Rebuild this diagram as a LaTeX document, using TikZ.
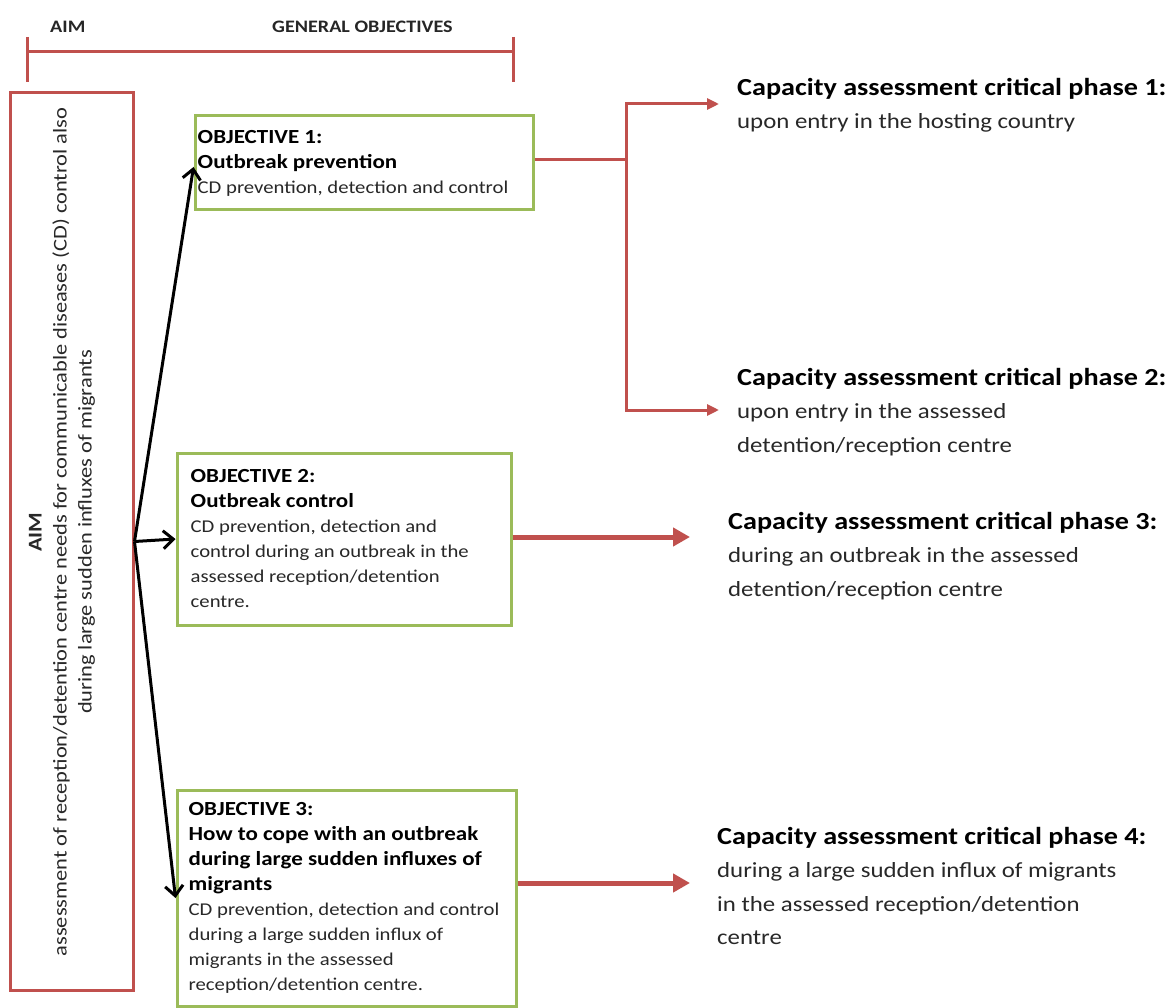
\documentclass[tikz,border=0pt]{standalone}
\usepackage{fontspec}
\setmainfont{Carlito}[FakeStretch=1.15]
\usetikzlibrary{arrows.meta}
\definecolor{cred}{RGB}{192,80,77}
\definecolor{cgreen}{RGB}{155,187,89}
\definecolor{ctext}{RGB}{40,40,40}
\tikzset{
  hdr/.style={font=\bfseries\fontsize{17.5}{20}\selectfont, text=black!85, inner sep=0pt},
  bracketline/.style={draw=cred, line width=3pt},
  aimbox/.style={draw=cred, line width=3pt, fill=white},
  aimtext/.style={font=\fontsize{19.5}{25}\selectfont, align=center, inner sep=0pt, text=ctext, rotate=90},
  objbox/.style={draw=cgreen, line width=3pt, fill=white},
  objtext/.style={font=\fontsize{18}{25}\selectfont, align=left, inner sep=0pt, text=ctext},
  phasetext/.style={font=\fontsize{21.6}{33.5}\selectfont, align=left, inner sep=0pt, text=ctext},
  blackarrow/.style={draw=black, line width=3pt, -{Straight Barb[length=10pt,width=18pt]}},
  redthin/.style={draw=cred, line width=3pt, -{Triangle[length=12pt,width=11pt]}},
  redthick/.style={draw=cred, line width=5pt, -{Triangle[length=17pt,width=18pt]}},
}
\newcommand{\objhead}[1]{{\color{black}\bfseries\fontsize{20}{25}\selectfont #1}}
\newcommand{\phasehead}[1]{{\color{black}\bfseries\fontsize{24.5}{33.5}\selectfont #1}}
\begin{document}
\begin{tikzpicture}[x=1pt,y=-1pt]
\useasboundingbox[fill=white] (0,0) rectangle (1173,1008);

% header
\node[hdr, anchor=west] (haim) at (50,27) {AIM};
\node[hdr, anchor=west] (hgen) at (272,27) {GENERAL OBJECTIVES};
\coordinate (bl) at (27,52);
\coordinate (br) at (513,52);
\draw[bracketline] (bl) -- (br);
\draw[bracketline] ([yshift=15]bl) -- ([yshift=-30]bl);
\draw[bracketline] ([yshift=15]br) -- ([yshift=-30]br);

% aim box
\node[aimbox, minimum width=123, minimum height=897] (aim) at (71.5,541.5) {};
\node[aimtext] (aimt) at (62,532) {\textbf{AIM}\\assessment of reception/detention centre needs for communicable diseases (CD) control also\\during large sudden influxes of migrants};

% objective boxes
\node[objbox, minimum width=338, minimum height=94] (obj1) at (364,163) {};
\node[objtext, anchor=west] (obj1t) at ([xshift=4]obj1.west) {\objhead{OBJECTIVE 1:}\\\objhead{Outbreak prevention}\\CD prevention, detection and control};

\node[objbox, minimum width=334, minimum height=172] (obj2) at (344,539) {};
\node[objtext, anchor=west] (obj2t) at ([xshift=15]obj2.west) {\objhead{OBJECTIVE 2:}\\\objhead{Outbreak control}\\CD prevention, detection and\\control during an outbreak in the\\assessed reception/detention\\centre.};

\node[objbox, minimum width=339, minimum height=216] (obj3) at (346.5,898) {};
\node[objtext, anchor=west] (obj3t) at ([xshift=13]obj3.west) {\objhead{OBJECTIVE 3:}\\\objhead{How to cope with an outbreak}\\\objhead{during large sudden influxes of}\\\objhead{migrants}\\CD prevention, detection and control\\during a large sudden influx of\\migrants in the assessed\\reception/detention centre.};

% phases
\node[phasetext, anchor=west] (p1) at (737,105) {\phasehead{Capacity assessment critical phase 1:}\\upon entry in the hosting country};
\node[phasetext, anchor=west] (p2) at (737,412) {\phasehead{Capacity assessment critical phase 2:}\\upon entry in the assessed\\detention/reception centre};
\node[phasetext, anchor=west] (p3) at (728,556) {\phasehead{Capacity assessment critical phase 3:}\\during an outbreak in the assessed\\detention/reception centre};
\node[phasetext, anchor=west] (p4) at (717,886) {\phasehead{Capacity assessment critical phase 4:}\\during a large sudden influx of migrants\\in the assessed reception/detention\\centre};

% black arrows
\draw[blackarrow] (aim.east) -- ([yshift=-4]obj1.west);
\draw[blackarrow] (aim.east) -- (obj2.west);
\draw[blackarrow] (aim.east) -- (obj3.west);

% red arrows
\coordinate (t1) at (719,104);
\coordinate (t2) at (719,410);
\coordinate (t3) at (690,537);
\coordinate (t4) at (690,883);
\draw[redthin] ([yshift=3]obj1.east) -- ++(92,0) |- (t1);
\draw[redthin] ([yshift=3]obj1.east) ++(92,0) |- (t2);
\draw[redthick] (obj2.east |- t3) -- (t3);
\draw[redthick] (obj3.east |- t4) -- (t4);
\end{tikzpicture}
\end{document}
